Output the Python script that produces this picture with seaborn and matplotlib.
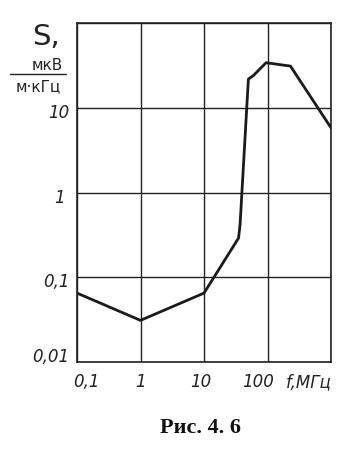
import matplotlib
matplotlib.use("Agg")
import matplotlib.pyplot as plt
import seaborn as sns
import pandas as pd
from matplotlib.ticker import FixedLocator, NullLocator

freq_mhz = [0.1, 1, 10, 35, 37, 50, 60, 95, 230, 1000]
s_values = [0.065, 0.031, 0.065, 0.29, 0.42, 21.8, 24, 34, 31, 5.8]
x_ticks = [0.1, 1, 10, 100]
x_tick_labels = ["0,1", "1", "10", "100"]
y_ticks = [0.01, 0.1, 1, 10]
y_tick_labels = ["0,01", "0,1", "1", "10"]

sns.set_theme(style="white")
plt.rcParams['font.family'] = ['DejaVu Sans']

df = pd.DataFrame({"f": freq_mhz, "S": s_values})

fig = plt.figure(figsize=(3.59, 4.59), dpi=100)
ax = fig.add_axes([77/359, 1 - 362/459, (331-77)/359, (362-23)/459])
sns.lineplot(data=df, x="f", y="S", ax=ax, color="#1a1a1a", linewidth=2.0, sort=False)
ax.set_xscale("log")
ax.set_yscale("log")
ax.set_xlim(0.1, 1000)
ax.set_ylim(0.01, 100)

ax.xaxis.set_major_locator(FixedLocator([0.1, 1, 10, 100, 1000]))
ax.yaxis.set_major_locator(FixedLocator([0.01, 0.1, 1, 10, 100]))
ax.xaxis.set_minor_locator(NullLocator())
ax.yaxis.set_minor_locator(NullLocator())
ax.grid(True, which="major", color="#222222", linewidth=1.0)
ax.set_xticklabels([])
ax.set_yticklabels([])
ax.tick_params(length=0)
ax.set_xlabel("")
ax.set_ylabel("")
for sp in ax.spines.values():
    sp.set_color("#222222")
    sp.set_linewidth(1.2)

tfont = dict(fontsize=12, color="#222222", fontstyle="italic")
x_shift = {0.1: 1.4, 1: 1.0, 10: 0.9, 100: 0.7}
for v, lab in zip(x_ticks, x_tick_labels):
    ax.text(v * x_shift[v], 0.0058, lab, ha="center", va="center", **tfont)
ax.text(440, 0.0058, "f,МГц", ha="center", va="center", **tfont)
for v, lab in zip(y_ticks, y_tick_labels):
    off = 1.15 if v == 0.01 else 0.87
    ax.text(0.1 / 1.32 if v != 1 else 0.1 / 1.55, v * off, lab, ha="right", va="center", **tfont)

fig.text(46/359, 1 - 37/459, "S,", fontsize=21, color="#222222", ha="center", va="center")
fig.text(47/359, 1 - 66/459, "мкВ", fontsize=11, color="#222222", ha="center", va="center")
fig.add_artist(plt.Line2D([10/359, 66/359], [1 - 74/459, 1 - 74/459], color="#222222", linewidth=1.0))
fig.text(38/359, 1 - 87/459, "м·кГц", fontsize=11, color="#222222", ha="center", va="center")

fig.text(200/359, 1 - 428/459, "Рис. 4. 6", fontsize=16, fontweight="bold",
         family="Liberation Serif", color="#111111", ha="center", va="center")

fig.savefig("out.png", dpi=100, facecolor="white")
